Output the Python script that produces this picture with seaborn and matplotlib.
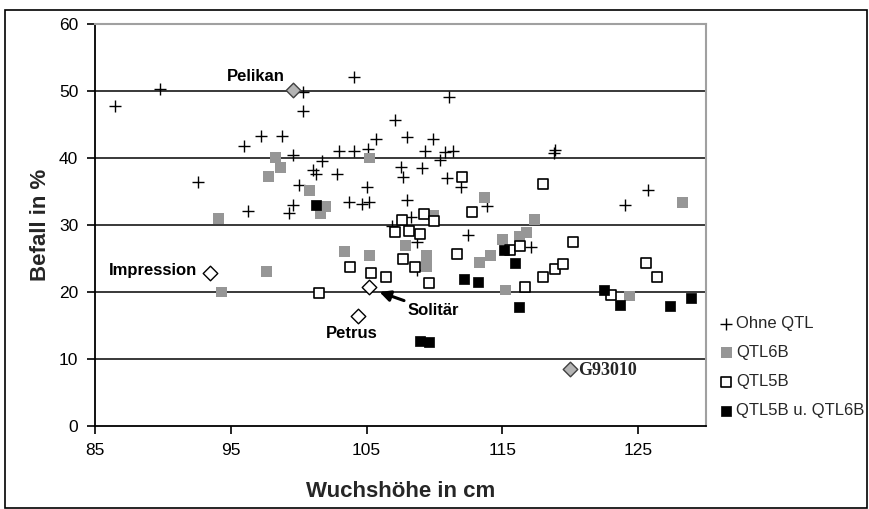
import matplotlib
matplotlib.use("Agg")
import matplotlib.pyplot as plt
import seaborn as sns
import pandas as pd
from matplotlib.patches import Rectangle

# ---- data ----
ohne_x = [86.5, 89.8, 92.6, 96.0, 96.25, 97.2, 98.8, 99.3, 99.6, 99.6, 100.0, 100.3, 100.3,
          101.05, 101.3, 101.7, 102.8, 103.0, 103.7, 104.1, 104.1, 104.7, 105.0, 105.1, 105.2,
          105.7, 106.9, 107.1, 107.5, 107.7, 107.96, 107.97, 108.3, 108.7, 108.7, 109.1, 109.3,
          109.9, 110.4, 110.8, 110.9, 111.05, 111.4, 111.95, 112.5, 113.9, 117.1, 118.8, 118.9,
          124.0, 125.7]
ohne_y = [47.8, 50.3, 36.4, 41.8, 32.1, 43.3, 43.3, 31.8, 33.0, 40.4, 35.9, 49.8, 47.0,
          38.2, 37.6, 39.5, 37.6, 41.0, 33.4, 52.1, 41.0, 33.1, 35.6, 41.4, 33.5,
          42.9, 29.8, 45.7, 38.7, 37.2, 43.2, 33.7, 31.2, 27.4, 23.3, 38.5, 41.1,
          42.8, 39.7, 40.9, 37.0, 49.1, 41.0, 35.7, 28.5, 32.8, 26.7, 40.7, 41.2,
          33.0, 35.2]

q6_x = [94.1, 94.3, 97.6, 97.8, 98.3, 98.65, 100.8, 101.6, 102.0, 103.4, 105.2, 105.2, 107.9,
        109.4, 109.4, 109.95, 113.3, 113.7, 114.1, 115.0, 115.2, 116.25, 116.8, 117.4, 124.4, 128.3]
q6_y = [31.0, 20.0, 23.0, 37.3, 40.1, 38.6, 35.1, 31.7, 32.8, 26.0, 25.4, 40.0, 27.0,
        25.5, 23.8, 31.4, 24.4, 34.1, 25.4, 27.9, 20.3, 28.3, 28.9, 30.8, 19.4, 33.4]

q5_x = [101.5, 103.8, 105.3, 106.45, 107.1, 107.6, 107.7, 108.1, 108.6, 108.9, 109.2, 109.6,
        109.95, 111.65, 112.0, 112.8, 115.6, 116.3, 116.7, 118.0, 118.0, 118.9, 119.5, 120.2,
        123.0, 125.6, 126.4]
q5_y = [19.9, 23.7, 22.9, 22.2, 28.9, 30.8, 25.0, 29.1, 23.7, 28.7, 31.6, 21.4,
        30.6, 25.7, 37.1, 31.9, 26.3, 26.8, 20.7, 36.1, 22.2, 23.5, 24.2, 27.4,
        19.6, 24.4, 22.2]

q56_x = [101.3, 108.9, 109.6, 112.2, 113.2, 115.15, 115.9, 116.2, 122.5, 123.65, 127.35, 128.9]
q56_y = [33.0, 12.7, 12.5, 21.9, 21.5, 26.2, 24.4, 17.7, 20.3, 18.1, 17.9, 19.1]

sorten = ["Pelikan", "Impression", "Solitär", "Petrus", "G93010"]
sorten_x = [99.6, 93.5, 105.2, 104.4, 120.0]
sorten_y = [50.1, 22.9, 20.8, 16.4, 8.5]
sorten_grau = [True, False, False, False, True]

legend_labels = ["Ohne QTL", "QTL6B", "QTL5B", "QTL5B u. QTL6B"]
x_ticks = [85, 95, 105, 115, 125]
y_ticks = [0, 10, 20, 30, 40, 50, 60]

# ---- figure ----
sns.set_style("white")
plt.rcParams['font.family'] = ['Liberation Sans', 'DejaVu Sans']

fig = plt.figure(figsize=(8.69, 5.09), dpi=100)
ax = fig.add_axes([95/869, 1-426/509, (706-95)/869, (426-24)/509])

# gridlines
for yv in y_ticks[1:-1]:
    ax.axhline(yv, color='#2a2a2a', lw=1.3, zorder=0)

sns.scatterplot(x=ohne_x, y=ohne_y, marker='+', s=80, color='black', linewidth=1.0,
                ax=ax, label=legend_labels[0], zorder=3)
sns.scatterplot(x=q6_x, y=q6_y, marker='s', s=62, color='#969696', edgecolor='none',
                linewidth=0, ax=ax, label=legend_labels[1], zorder=3)
sns.scatterplot(x=q5_x, y=q5_y, marker='s', s=58, color='white', edgecolor='black',
                linewidth=1.2, ax=ax, label=legend_labels[2], zorder=3)
sns.scatterplot(x=q56_x, y=q56_y, marker='s', s=62, color='black', edgecolor='black',
                linewidth=0.5, ax=ax, label=legend_labels[3], zorder=3)

df_s = pd.DataFrame({"x": sorten_x, "y": sorten_y, "grau": sorten_grau})
sns.scatterplot(data=df_s[df_s.grau], x="x", y="y", marker='D', s=55, color='#b4b4b4',
                edgecolor='#404040', linewidth=1.0, ax=ax, legend=False, zorder=4)
sns.scatterplot(data=df_s[~df_s.grau], x="x", y="y", marker='D', s=55, color='white',
                edgecolor='black', linewidth=1.0, ax=ax, legend=False, zorder=4)

lab_kw = dict(fontweight='bold', fontsize=12, color='black')
ax.text(99.0, 52.2, "Pelikan", ha='right', va='center', **lab_kw)
ax.text(92.5, 23.2, "Impression", ha='right', va='center', **lab_kw)
ax.text(103.9, 13.8, "Petrus", ha='center', va='center', **lab_kw)
ax.annotate("Solitär", xy=(105.95, 20.0), xytext=(108.0, 17.2), ha='left', va='center',
            arrowprops=dict(arrowstyle='-|>', color='black', lw=2.2, mutation_scale=16,
                            shrinkA=0, shrinkB=0), **lab_kw)
ax.text(120.6, 8.3, "G93010", ha='left', va='center', fontweight='bold', fontsize=13,
        family=['Liberation Serif', 'DejaVu Serif'])

ax.set_xlim(85, 130)
ax.set_ylim(0, 60)
ax.set_xticks(x_ticks)
ax.set_yticks(y_ticks)
ax.tick_params(axis='both', which='major', direction='out', length=6, width=1.2,
               labelsize=12.5, colors='black', bottom=True, left=True, pad=6)
ax.set_xlabel("Wuchshöhe in cm", fontsize=16, fontweight='bold', labelpad=17)
ax.set_ylabel("Befall in %", fontsize=16, fontweight='bold', labelpad=6)

for side in ['left', 'bottom']:
    ax.spines[side].set_color('black')
    ax.spines[side].set_linewidth(1.3)
for side in ['top', 'right']:
    ax.spines[side].set_color('#a0a0a0')
    ax.spines[side].set_linewidth(1.5)

leg = ax.legend(loc='upper left', bbox_to_anchor=(718/869, 1-316/509),
                bbox_transform=fig.transFigure, frameon=False, fontsize=12,
                handletextpad=0.1, handlelength=1.0, labelspacing=0.85,
                borderpad=0, borderaxespad=0, markerscale=1.0)

fig.patches.append(Rectangle((5/869, 1/509), 862/869, 498/509, transform=fig.transFigure,
                             fill=False, edgecolor='black', lw=1.2, zorder=10))

fig.savefig("out.png", dpi=100, facecolor='white')
